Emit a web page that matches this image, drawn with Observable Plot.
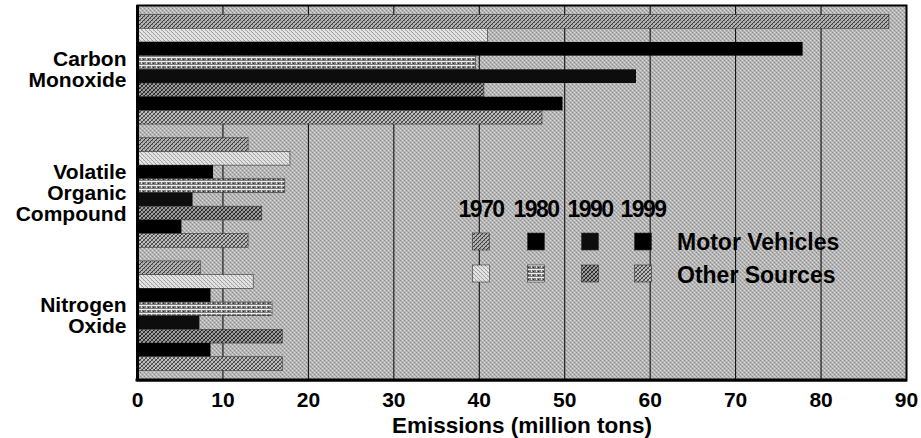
<!DOCTYPE html>
<html>
<head>
<meta charset="utf-8">
<script src="https://cdn.jsdelivr.net/npm/d3@7"></script>
<script src="https://cdn.jsdelivr.net/npm/@observablehq/plot@0.6"></script>
<style>
  html, body { margin: 0; padding: 0; background: #fff; }
  #chart { position: relative; width: 921px; height: 438px; }
  svg.defs { position: absolute; width: 0; height: 0; }
</style>
</head>
<body>
<svg class="defs" aria-hidden="true">
  <defs>
    <pattern id="bg" width="4" height="4" patternUnits="userSpaceOnUse">
      <rect width="4" height="4" fill="#dcdcdc"/>
      <rect x="0" y="0" width="1" height="1" fill="#777"/>
      <rect x="1" y="1" width="1" height="1" fill="#777"/>
      <rect x="2" y="2" width="1" height="1" fill="#777"/>
      <rect x="3" y="3" width="1" height="1" fill="#777"/>
      <rect x="3" y="0" width="1" height="1" fill="#a6a6a6"/>
      <rect x="2" y="1" width="1" height="1" fill="#a6a6a6"/>
      <rect x="1" y="2" width="1" height="1" fill="#a6a6a6"/>
      <rect x="0" y="3" width="1" height="1" fill="#a6a6a6"/>
    </pattern>
    <pattern id="p70mv" width="4" height="4" patternUnits="userSpaceOnUse">
      <rect width="4" height="4" fill="#b2b2b2"/>
      <rect x="0" y="3" width="1" height="1" fill="#3a3a3a"/>
      <rect x="1" y="2" width="1" height="1" fill="#3a3a3a"/>
      <rect x="2" y="1" width="1" height="1" fill="#3a3a3a"/>
      <rect x="3" y="0" width="1" height="1" fill="#3a3a3a"/>
      <rect x="0" y="0" width="1" height="1" fill="#6e6e6e"/>
      <rect x="2" y="2" width="1" height="1" fill="#6e6e6e"/>
    </pattern>
    <pattern id="p70ot" width="4" height="4" patternUnits="userSpaceOnUse">
      <rect width="4" height="4" fill="#e6e6e6"/>
      <rect x="0" y="0" width="1" height="1" fill="#a0a0a0"/>
      <rect x="1" y="1" width="1" height="1" fill="#a0a0a0"/>
      <rect x="2" y="2" width="1" height="1" fill="#a0a0a0"/>
      <rect x="3" y="3" width="1" height="1" fill="#a0a0a0"/>
      <rect x="3" y="0" width="1" height="1" fill="#c8c8c8"/>
      <rect x="1" y="2" width="1" height="1" fill="#c8c8c8"/>
    </pattern>
    <pattern id="p80ot" width="5" height="4" patternUnits="userSpaceOnUse">
      <rect width="5" height="4" fill="#7c7c7c"/>
      <rect x="0" y="1" width="5" height="1" fill="#eeeeee"/>
      <rect x="1" y="2" width="1" height="2" fill="#d8d8d8"/>
      <rect x="3" y="3" width="1" height="1" fill="#2a2a2a"/>
    </pattern>
    <pattern id="p90ot" width="4" height="4" patternUnits="userSpaceOnUse">
      <rect width="4" height="4" fill="#a0a0a0"/>
      <rect x="0" y="3" width="1" height="1" fill="#202020"/>
      <rect x="1" y="2" width="1" height="1" fill="#202020"/>
      <rect x="2" y="1" width="1" height="1" fill="#202020"/>
      <rect x="3" y="0" width="1" height="1" fill="#202020"/>
      <rect x="0" y="0" width="1" height="1" fill="#505050"/>
      <rect x="1" y="1" width="1" height="1" fill="#505050"/>
      <rect x="2" y="2" width="1" height="1" fill="#505050"/>
      <rect x="3" y="3" width="1" height="1" fill="#505050"/>
    </pattern>
    <pattern id="p99ot" width="4" height="4" patternUnits="userSpaceOnUse">
      <rect width="4" height="4" fill="#c0c0c0"/>
      <rect x="0" y="3" width="1" height="1" fill="#404040"/>
      <rect x="1" y="2" width="1" height="1" fill="#404040"/>
      <rect x="2" y="1" width="1" height="1" fill="#404040"/>
      <rect x="3" y="0" width="1" height="1" fill="#404040"/>
      <rect x="0" y="0" width="1" height="1" fill="#727272"/>
      <rect x="1" y="1" width="1" height="1" fill="#727272"/>
      <rect x="2" y="2" width="1" height="1" fill="#727272"/>
      <rect x="3" y="3" width="1" height="1" fill="#727272"/>
    </pattern>
  </defs>
</svg>
<div id="chart"></div>
<script>
// ---- Data ----
const categories = ["Carbon\nMonoxide", "Volatile\nOrganic\nCompound", "Nitrogen\nOxide"];
const years = ["1970", "1980", "1990", "1999"];
const sources = ["Motor Vehicles", "Other Sources"];
// emissions, million tons, per year 1970, 1980, 1990, 1999
const coMotor   = [88.0, 77.9, 58.4, 49.8];
const coOther   = [41.0, 39.6, 40.6, 47.4];
const vocMotor  = [13.0, 8.9, 6.5, 5.2];
const vocOther  = [17.9, 17.3, 14.6, 13.0];
const noxMotor  = [7.4, 8.6, 7.3, 8.6];
const noxOther  = [13.6, 15.8, 17.0, 17.0];
const xTicks = [0, 10, 20, 30, 40, 50, 60, 70, 80, 90];

// ---- Styles ----
const seriesFill = {
  "1970|Motor Vehicles": "url(#p70mv)",
  "1970|Other Sources": "url(#p70ot)",
  "1980|Motor Vehicles": "#000",
  "1980|Other Sources": "url(#p80ot)",
  "1990|Motor Vehicles": "#0d0d0d",
  "1990|Other Sources": "url(#p90ot)",
  "1999|Motor Vehicles": "#000",
  "1999|Other Sources": "url(#p99ot)"
};

const values = [[coMotor, coOther], [vocMotor, vocOther], [noxMotor, noxOther]];
const rows = [];
categories.forEach((cat, ci) => {
  years.forEach((yr, yi) => {
    sources.forEach((src, si) => {
      rows.push({category: cat, year: yr, source: src, series: yr + "|" + src,
                 key: ci + "|" + yr + "|" + src, value: values[ci][si][yi]});
    });
  });
});

// band domain: bars of each category with one empty band between groups
const yDomain = [];
categories.forEach((cat, ci) => {
  if (ci > 0) yDomain.push("gap" + ci);
  years.forEach(yr => sources.forEach(src => yDomain.push(ci + "|" + yr + "|" + src)));
});

const W = 921, H = 438, mT = 5, mB = 58, mL = 137, mR = 15;
const padOuter = 0.7;
const step = (H - mT - mB) / (yDomain.length + 2 * padOuter);

const seriesKeys = Object.keys(seriesFill);
const labelRows = categories.map((cat, ci) => ({category: cat, key: ci + "|1980|Other Sources"}));
const FONT = "'Liberation Sans', Arial, sans-serif";

const plot = Plot.plot({
  width: W, height: H,
  marginTop: mT, marginBottom: mB, marginLeft: mL, marginRight: mR,
  style: {fontFamily: FONT, fontSize: "21px", fontWeight: "bold", color: "#000", background: "transparent"},
  x: {domain: [0, 90], ticks: xTicks, tickSize: 0, tickPadding: 12, tickFormat: d => String(d),
      label: "Emissions (million tons)", labelAnchor: "center", labelOffset: 52, labelArrow: "none"},
  y: {domain: yDomain, axis: null, paddingInner: 0, paddingOuter: padOuter, round: false},
  color: {domain: seriesKeys, range: seriesKeys.map(k => seriesFill[k])},
  marks: [
    Plot.frame({fill: "url(#bg)", stroke: null}),
    Plot.ruleX(xTicks.filter(t => t > 0 && t < 90), {stroke: "#000", strokeWidth: 1}),
    Plot.barX(rows, {y: "key", x: "value", fill: "series",
      stroke: d => d.source === "Motor Vehicles" && d.year !== "1970" ? "none" : "#333",
      strokeWidth: 0.6}),
    Plot.text(labelRows, {y: "key", text: "category", frameAnchor: "left", dx: -11, dy: step / 2,
      textAnchor: "end", lineHeight: 1.0, fontSize: 21, fontWeight: "bold", fill: "#000"}),
    Plot.frame({stroke: "#000", strokeWidth: 2}),
    Plot.ruleX([0], {stroke: "#000", strokeWidth: 3})
  ]
});
document.getElementById("chart").appendChild(plot);

const svg = d3.select(plot.tagName.toLowerCase() === "svg" ? plot : plot.querySelector("svg"));
// the x axis label slightly larger than ticks
svg.selectAll("text").filter(function() { return this.textContent === "Emissions (million tons)"; })
  .attr("font-size", 22.5);
// bottom axis line (thicker)
svg.append("line").attr("x1", mL - 1.5).attr("x2", W - mR + 1).attr("y1", H - mB).attr("y2", H - mB)
  .attr("stroke", "#000").attr("stroke-width", 3);

// ---- Legend (inside plot area) ----
const lg = svg.append("g").attr("font-family", FONT).attr("font-weight", "bold").attr("fill", "#000");
const yearX = [481, 536, 590, 643];
years.forEach((yr, i) => {
  lg.append("text").attr("x", yearX[i]).attr("y", 217).attr("text-anchor", "middle")
    .attr("font-size", 23).attr("letter-spacing", "-1.5").text(yr);
  sources.forEach((src, j) => {
    lg.append("rect").attr("x", yearX[i] - 8.5).attr("y", 233 + j * 32).attr("width", 17).attr("height", 17)
      .attr("fill", seriesFill[yr + "|" + src])
      .attr("stroke", "#333").attr("stroke-width", 0.6);
  });
});
sources.forEach((src, j) => {
  lg.append("text").attr("x", 677).attr("y", 250 + j * 33).attr("text-anchor", "start")
    .attr("font-size", 23).text(src);
});
</script>
</body>
</html>
